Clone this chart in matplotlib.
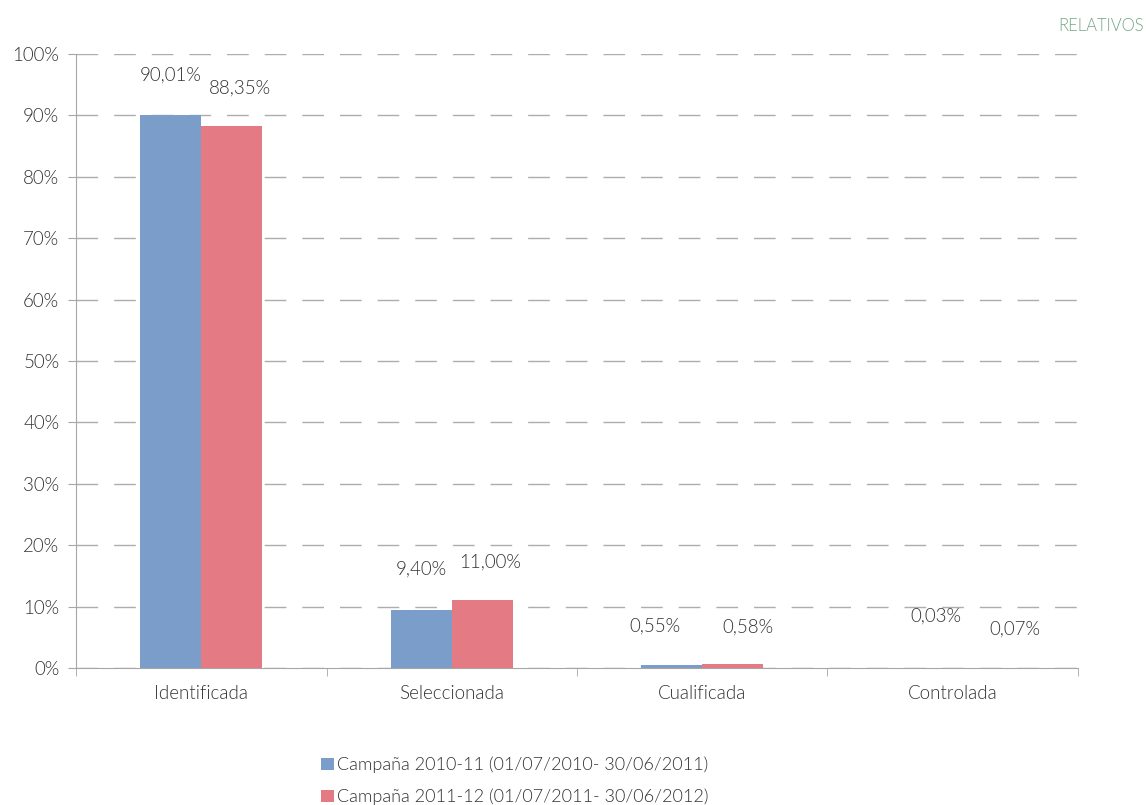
import numpy as np
import matplotlib.pyplot as plt
from matplotlib.ticker import PercentFormatter, FixedLocator

categorias = ['Identificada', 'Seleccionada', 'Cualificada', 'Controlada']
campana_2010 = [90.01, 9.40, 0.55, 0.03]
campana_2011 = [88.35, 11.00, 0.58, 0.07]
series_nombres = ['Campaña 2010-11 (01/07/2010- 30/06/2011)',
                  'Campaña 2011-12 (01/07/2011- 30/06/2012)']

plt.rcParams['font.family'] = ['Lato', 'DejaVu Sans']
plt.rcParams['font.weight'] = 300

azul = '#7A9EC9'
rojo = '#E47A84'
texto = '#333333'
gris = '#A6A6A6'

fig = plt.figure(figsize=(11.47, 8.05), dpi=100)
ax = fig.add_axes([0.0663, 0.1702, 0.8735, 0.7627])

x = np.arange(len(categorias))
w = 0.243
b1 = ax.bar(x - w / 2, campana_2010, w, color=azul, label=series_nombres[0], zorder=3)
b2 = ax.bar(x + w / 2, campana_2011, w, color=rojo, label=series_nombres[1], zorder=3)

# etiquetas de datos (desplazamientos en puntos, como en el original)
off1 = [(0, 29), (0, 30), (-12, 28), (10, 37)]
off2 = [(6, 27), (6, 28), (11, 27), (23, 28)]
for bars, vals, offs in [(b1, campana_2010, off1), (b2, campana_2011, off2)]:
    for r, v, o in zip(bars, vals, offs):
        ax.annotate(f'{v:.2f}%'.replace('.', ','),
                    (r.get_x() + r.get_width() / 2, r.get_height()),
                    xytext=o, textcoords='offset points',
                    ha='center', va='center', fontsize=13.5, color=texto)

ax.set_xlim(-0.5, len(categorias) - 0.5)
ax.set_ylim(0, 100)
ax.set_yticks(np.arange(0, 101, 10))
ax.yaxis.set_major_formatter(PercentFormatter(decimals=0))
ax.set_xticks(x)
ax.set_xticklabels(categorias)
ax.xaxis.set_minor_locator(FixedLocator(np.arange(-0.5, len(categorias), 1)))
ax.tick_params(axis='x', which='major', length=0, pad=12, labelsize=13.5, labelcolor=texto)
ax.tick_params(axis='x', which='minor', length=6, color=gris)
ax.tick_params(axis='y', length=6, color=gris, labelsize=13.5, labelcolor=texto, pad=6)

ax.yaxis.grid(True, color='#ADADAD', linestyle=(0, (15.6, 11.5)), linewidth=1, zorder=0)
ax.set_axisbelow(True)
for s in ['top', 'right']:
    ax.spines[s].set_visible(False)
for s in ['left', 'bottom']:
    ax.spines[s].set_color(gris)

fig.legend(loc='upper left', bbox_to_anchor=(0.272, 0.071), frameon=False,
           fontsize=13, handlelength=0.7, handleheight=0.7, handletextpad=0.2,
           labelspacing=0.85, borderpad=0, labelcolor=texto)

fig.text(0.997, 0.968, 'RELATIVOS', ha='right', va='center', fontsize=12,
         color='#72A585')

fig.savefig('out.png', dpi=100)
